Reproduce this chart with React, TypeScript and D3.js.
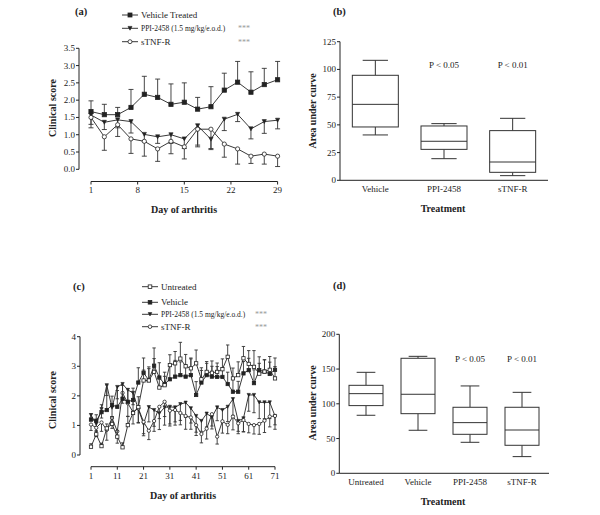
import React from 'react';
import * as d3 from 'd3';

const FONT = '"Liberation Serif", "Times New Roman", serif';
const INK = '#222';

// ---------- Panel (a) data ----------
const daysA = [1, 3, 5, 7, 9, 11, 13, 15, 17, 19, 21, 23, 25, 27, 29];
const xTicksA = [1, 8, 15, 22, 29];
const yTicksA = [0, 0.5, 1, 1.5, 2, 2.5, 3, 3.5];
const vehicleA = [1.67, 1.58, 1.58, 1.79, 2.17, 2.08, 1.88, 1.94, 1.74, 1.81, 2.29, 2.52, 2.23, 2.45, 2.59];
const vehicleSemA = [0.31, 0.3, 0.21, 0.52, 0.52, 0.53, 0.59, 0.56, 0.34, 0.58, 0.49, 0.6, 0.59, 0.47, 0.53];
const ppiA = [1.57, 1.36, 1.43, 1.38, 1.01, 0.94, 1.0, 0.88, 1.26, 0.87, 1.45, 1.59, 1.17, 1.38, 1.42];
const ppiSemA = [0.27, 0.21, 0.23, 0.33, 0.21, 0.19, 0.25, 0.28, 0.56, 0.27, 0.33, 0.21, 0.29, 0.34, 0.25];
const stnfA = [1.5, 0.94, 1.29, 0.88, 0.81, 0.59, 0.81, 0.65, 1.16, 1.16, 0.73, 0.59, 0.38, 0.44, 0.38];
const stnfSemA = [0.3, 0.39, 0.34, 0.42, 0.43, 0.36, 0.36, 0.35, 0.51, 0.59, 0.38, 0.44, 0.21, 0.29, 0.3];

// ---------- Panel (b) data ----------
const catsB = ['Vehicle', 'PPI-2458', 'sTNF-R'];
const yTicksB = [0, 25, 50, 75, 100, 125];
const minB = [40.9, 19.5, 4.2];
const q1B = [48.1, 27.9, 7.2];
const medB = [68.5, 35.2, 16.5];
const q3B = [94.7, 49.0, 44.8];
const maxB = [108.2, 51.1, 55.9];
const pTextB = ['', 'P < 0.05', 'P < 0.01'];

// ---------- Panel (c) data ----------
const daysC = [1, 3, 5, 7, 9, 11, 13, 15, 17, 19, 21, 23, 25, 27, 29, 31, 33, 35, 37, 39, 41, 43, 45, 47, 49, 51, 53, 55, 57, 59, 61, 63, 65, 67, 69, 71];
const xTicksC = [1, 11, 21, 31, 41, 51, 61, 71];
const yTicksC = [0, 1, 2, 3, 4];
const untreatedC = [0.28, 0.7, 0.3, 0.9, 1.05, 0.62, 0.26, 1.01, 1.42, 1.62, 2.52, 2.52, 2.81, 2.28, 2.36, 3.04, 3.1, 3.26, 3.0, 2.93, 3.1, 2.56, 2.81, 2.78, 2.81, 2.9, 3.32, 2.59, 2.7, 3.27, 3.08, 2.98, 2.75, 2.82, 2.88, 2.59];
const untreatedSemC = [0.1, 0.12, 0.1, 0.15, 0.25, 0.2, 0.15, 0.3, 0.4, 0.35, 0.35, 0.4, 0.45, 0.3, 0.3, 0.35, 0.4, 0.55, 0.4, 0.35, 0.45, 0.3, 0.35, 0.4, 0.3, 0.35, 0.4, 0.35, 0.45, 0.4, 0.45, 0.55, 0.35, 0.4, 0.45, 0.4];
const vehicleC = [1.2, 1.16, 1.45, 1.52, 1.69, 1.63, 1.9, 1.8, 1.86, 2.45, 2.78, 2.53, 3.02, 2.62, 2.4, 2.56, 2.65, 2.7, 2.65, 2.7, 2.03, 2.45, 2.7, 2.65, 2.64, 2.64, 2.4, 2.14, 2.14, 2.76, 2.87, 2.43, 2.87, 2.82, 2.74, 2.88];
const vehicleSemC = [0.2, 0.2, 0.25, 0.85, 0.3, 0.55, 0.45, 0.45, 0.4, 0.5, 0.5, 0.45, 0.6, 0.5, 0.4, 0.45, 0.55, 0.45, 0.4, 0.55, 0.45, 0.5, 0.4, 0.35, 0.35, 0.3, 0.4, 0.45, 0.35, 0.4, 0.4, 0.45, 0.45, 0.4, 0.4, 0.4];
const ppiC = [1.35, 1.05, 1.55, 2.36, 1.6, 2.3, 2.4, 2.2, 2.1, 1.55, 1.05, 1.62, 1.52, 1.41, 1.61, 1.63, 1.61, 1.72, 1.77, 1.58, 1.32, 1.15, 1.4, 1.28, 1.61, 1.52, 1.63, 1.89, 1.15, 1.24, 2.03, 2.03, 1.78, 1.78, 1.78, 1.32];
const ppiSemC = [0.2, 0.25, 0.3, 0.35, 0.3, 0.4, 0.45, 0.4, 0.4, 0.45, 0.4, 0.5, 0.55, 0.55, 0.6, 0.65, 0.6, 0.55, 0.5, 0.5, 0.55, 0.35, 0.45, 0.4, 0.45, 0.4, 0.5, 0.55, 0.35, 0.45, 0.55, 0.6, 0.55, 0.55, 0.55, 0.45];
const stnfC = [1.03, 0.92, 1.1, 0.85, 1.25, 0.8, 2.1, 1.75, 1.45, 1.58, 1.12, 0.82, 1.15, 1.63, 1.8, 1.5, 1.52, 1.42, 1.32, 1.27, 1.01, 0.71, 0.89, 1.38, 0.62, 1.14, 1.02, 1.3, 1.07, 1.18, 1.05, 1.01, 1.05, 1.16, 1.3, 1.32];
const stnfSemC = [0.2, 0.3, 0.3, 0.35, 0.35, 0.4, 0.35, 0.45, 0.4, 0.5, 0.4, 0.3, 0.35, 0.4, 0.5, 0.45, 0.4, 0.4, 0.45, 0.4, 0.35, 0.3, 0.35, 0.4, 0.25, 0.4, 0.3, 0.45, 0.35, 0.4, 0.3, 0.3, 0.35, 0.4, 0.35, 0.3];

// ---------- Panel (d) data ----------
const catsD = ['Untreated', 'Vehicle', 'PPI-2458', 'sTNF-R'];
const yTicksD = [0, 50, 100, 150, 200];
const minD = [83.5, 61.9, 44.6, 24.0];
const q1D = [97.4, 85.8, 56.1, 40.3];
const medD = [114.6, 113.7, 72.9, 62.3];
const q3D = [126.6, 165.5, 95.0, 95.0];
const maxD = [145.3, 168.3, 125.7, 116.5];
const pTextD = ['', '', 'P < 0.05', 'P < 0.01'];

type Shape = 'square' | 'tri' | 'circle' | 'osquare';

function Marker({ x, y, shape, s }: { x: number; y: number; shape: Shape; s: number }) {
  if (shape === 'square' || shape === 'osquare') {
    return (
      <rect x={x - s / 2} y={y - s / 2} width={s} height={s}
        fill={shape === 'square' ? INK : '#fff'} stroke={INK} strokeWidth={0.8} />
    );
  }
  if (shape === 'tri') {
    const h = s * 0.95;
    const p = `M${x - s / 2},${y - h / 2}L${x + s / 2},${y - h / 2}L${x},${y + h / 2}Z`;
    return <path d={p} fill={INK} stroke={INK} strokeWidth={0.6} />;
  }
  return <circle cx={x} cy={y} r={s / 2} fill="#fff" stroke={INK} strokeWidth={0.8} />;
}

type Series = { vals: number[]; sem: number[]; dir: 1 | -1; shape: Shape };

function Lines({ days, series, x, y, ms, cap }: {
  days: number[]; series: Series[]; x: d3.ScaleLinear<number, number>; y: d3.ScaleLinear<number, number>; ms: number; cap: number;
}) {
  const line = d3.line<number>().x((_, i) => x(days[i])).y((v) => y(v));
  return (
    <g>
      {series.map((s, si) => (
        <g key={si}>
          {s.vals.map((v, i) => {
            const px = x(days[i]);
            const y0 = y(v);
            const y1 = y(v + s.dir * s.sem[i]);
            return (
              <g key={i} stroke="#333" strokeWidth={0.9}>
                <line x1={px} x2={px} y1={y0} y2={y1} />
                <line x1={px - cap} x2={px + cap} y1={y1} y2={y1} />
              </g>
            );
          })}
          <path d={line(s.vals) || ''} fill="none" stroke={INK} strokeWidth={0.9} />
          {s.vals.map((v, i) => (
            <Marker key={i} x={x(days[i])} y={y(v)} shape={s.shape} s={ms} />
          ))}
        </g>
      ))}
    </g>
  );
}

function YAxis({ ax, y, ticks, fmt }: { ax: number; y: d3.ScaleLinear<number, number>; ticks: number[]; fmt: (v: number) => string }) {
  const [d0, d1] = y.domain();
  return (
    <g>
      <line x1={ax} x2={ax} y1={y(d0)} y2={y(d1)} stroke={INK} strokeWidth={1} />
      {ticks.map((t) => (
        <g key={t}>
          <line x1={ax - 3} x2={ax} y1={y(t)} y2={y(t)} stroke={INK} strokeWidth={1} />
          <text x={ax - 4} y={y(t) + 3} fontSize={9} textAnchor="end" fill={INK}>{fmt(t)}</text>
        </g>
      ))}
    </g>
  );
}

function XAxisLin({ ay, x, ticks, labelY }: { ay: number; x: d3.ScaleLinear<number, number>; ticks: number[]; labelY: number }) {
  const [d0, d1] = x.domain();
  return (
    <g>
      <line x1={x(d0)} x2={x(d1)} y1={ay} y2={ay} stroke={INK} strokeWidth={1} />
      {ticks.map((t) => (
        <g key={t}>
          <line x1={x(t)} x2={x(t)} y1={ay} y2={ay + 3} stroke={INK} strokeWidth={1} />
          <text x={x(t)} y={labelY} fontSize={9} textAnchor="middle" fill={INK}>{t}</text>
        </g>
      ))}
    </g>
  );
}

function Boxes({ cats, x, y, mins, q1, med, q3, maxs, bw, ptext, pY }: {
  cats: string[]; x: d3.ScaleBand<string>; y: d3.ScaleLinear<number, number>;
  mins: number[]; q1: number[]; med: number[]; q3: number[]; maxs: number[]; bw: number; ptext: string[]; pY: number;
}) {
  const capW = bw * 0.55;
  return (
    <g stroke="#333" strokeWidth={1} fill="none">
      {cats.map((c, i) => {
        const cx = (x(c) || 0) + x.bandwidth() / 2;
        return (
          <g key={c}>
            <line x1={cx} x2={cx} y1={y(maxs[i])} y2={y(q3[i])} />
            <line x1={cx} x2={cx} y1={y(q1[i])} y2={y(mins[i])} />
            <line x1={cx - capW / 2} x2={cx + capW / 2} y1={y(maxs[i])} y2={y(maxs[i])} />
            <line x1={cx - capW / 2} x2={cx + capW / 2} y1={y(mins[i])} y2={y(mins[i])} />
            <rect x={cx - bw / 2} y={y(q3[i])} width={bw} height={y(q1[i]) - y(q3[i])} fill="#fff" />
            <line x1={cx - bw / 2} x2={cx + bw / 2} y1={y(med[i])} y2={y(med[i])} />
            {ptext[i] && (
              <text x={cx} y={pY} fontSize={9} textAnchor="middle" fill={INK} stroke="none">{ptext[i]}</text>
            )}
          </g>
        );
      })}
    </g>
  );
}

function LegendItem({ x, y, shape, label, ms, fs = 9 }: { x: number; y: number; shape: Shape; label: string; ms: number; fs?: number }) {
  return (
    <g>
      <line x1={x} x2={x + 16} y1={y} y2={y} stroke={INK} strokeWidth={0.9} />
      <Marker x={x + 8} y={y} shape={shape} s={ms} />
      <text x={x + 19} y={y + 3} fontSize={fs} fill={INK}>{label}</text>
    </g>
  );
}

export default function App() {
  // Panel (a)
  const xA = d3.scaleLinear().domain([1, 29]).range([91, 277.6]);
  const yA = d3.scaleLinear().domain([0, 3.5]).range([169.3, 48.3]);
  // Panel (b)
  const xB = d3.scaleBand<string>().domain(catsB).range([341, 547]);
  const yB = d3.scaleLinear().domain([0, 125]).range([180.3, 41.7]);
  // Panel (c)
  const xC = d3.scaleLinear().domain([1, 71]).range([91, 275]);
  const yC = d3.scaleLinear().domain([0, 4]).range([455, 336.7]);
  // Panel (d)
  const xD = d3.scaleBand<string>().domain(catsD).range([340, 548]);
  const yD = d3.scaleLinear().domain([0, 200]).range([473.3, 334.3]);

  const seriesA: Series[] = [
    { vals: vehicleA, sem: vehicleSemA, dir: 1, shape: 'square' },
    { vals: ppiA, sem: ppiSemA, dir: -1, shape: 'tri' },
    { vals: stnfA, sem: stnfSemA, dir: -1, shape: 'circle' },
  ];
  const seriesC: Series[] = [
    { vals: ppiC, sem: ppiSemC, dir: -1, shape: 'tri' },
    { vals: stnfC, sem: stnfSemC, dir: -1, shape: 'circle' },
    { vals: vehicleC, sem: vehicleSemC, dir: 1, shape: 'square' },
    { vals: untreatedC, sem: untreatedSemC, dir: 1, shape: 'osquare' },
  ];

  const f1 = (v: number) => v.toFixed(1);
  const f0 = (v: number) => String(v);

  return (
    <svg width={600} height={515} style={{ position: 'absolute', left: 0, top: 0, background: '#fff' }} fontFamily={FONT}>
      <rect width={600} height={515} fill="#fff" />
      {/* ---------- (a) ---------- */}
      <text x={75} y={15} fontSize={10.5} fontWeight="bold" fill={INK}>(a)</text>
      <LegendItem x={122} y={15} shape="square" label="Vehicle Treated" ms={4} />
      <LegendItem x={122} y={28.3} shape="tri" label="PPI-2458 (1.5 mg/kg/e.o.d.)" ms={4} fs={7.5} />
      <LegendItem x={122} y={41.7} shape="circle" label="sTNF-R" ms={4} />
      <text x={238} y={31.3} fontSize={8} fill="#999">***</text>
      <text x={238} y={44.7} fontSize={8} fill="#999">***</text>
      <YAxis ax={79} y={yA} ticks={yTicksA} fmt={f1} />
      <XAxisLin ay={181.5} x={xA} ticks={xTicksA} labelY={192.5} />
      <Lines days={daysA} series={seriesA} x={xA} y={yA} ms={4.2} cap={2.5} />
      <text transform="translate(56,108) rotate(-90)" fontSize={10} fontWeight="bold" textAnchor="middle" fill={INK}>Clinical score</text>
      <text x={184} y={212.5} fontSize={10} fontWeight="bold" textAnchor="middle" fill={INK}>Day of arthritis</text>

      {/* ---------- (b) ---------- */}
      <text x={333} y={15} fontSize={10.5} fontWeight="bold" fill={INK}>(b)</text>
      <YAxis ax={340} y={yB} ticks={yTicksB} fmt={f0} />
      <line x1={340} x2={548} y1={yB(0)} y2={yB(0)} stroke={INK} strokeWidth={1} />
      <Boxes cats={catsB} x={xB} y={yB} mins={minB} q1={q1B} med={medB} q3={q3B} maxs={maxB} bw={46} ptext={pTextB} pY={68} />
      {catsB.map((c) => (
        <text key={c} x={(xB(c) || 0) + xB.bandwidth() / 2} y={191.5} fontSize={9} textAnchor="middle" fill={INK}>{c}</text>
      ))}
      <text transform="translate(316,111) rotate(-90)" fontSize={10} fontWeight="bold" textAnchor="middle" fill={INK}>Area under curve</text>
      <text x={443} y={211.5} fontSize={10} fontWeight="bold" textAnchor="middle" fill={INK}>Treatment</text>

      {/* ---------- (c) ---------- */}
      <text x={73} y={289.5} fontSize={10.5} fontWeight="bold" fill={INK}>(c)</text>
      <LegendItem x={142} y={286.7} shape="osquare" label="Untreated" ms={3.6} />
      <LegendItem x={142} y={302.3} shape="square" label="Vehicle" ms={3.6} />
      <LegendItem x={142} y={314.3} shape="tri" label="PPI-2458 (1.5 mg/kg/e.o.d.)" ms={3.6} fs={7.5} />
      <LegendItem x={142} y={326.7} shape="circle" label="sTNF-R" ms={3.6} />
      <text x={255} y={317.3} fontSize={8} fill="#999">***</text>
      <text x={255} y={329.7} fontSize={8} fill="#999">***</text>
      <YAxis ax={80} y={yC} ticks={yTicksC} fmt={f0} />
      <XAxisLin ay={466.7} x={xC} ticks={xTicksC} labelY={478.5} />
      <Lines days={daysC} series={seriesC} x={xC} y={yC} ms={3.3} cap={1.7} />
      <text transform="translate(56,400) rotate(-90)" fontSize={10} fontWeight="bold" textAnchor="middle" fill={INK}>Clinical score</text>
      <text x={183} y={498.5} fontSize={10} fontWeight="bold" textAnchor="middle" fill={INK}>Day of arthritis</text>

      {/* ---------- (d) ---------- */}
      <text x={333} y={289} fontSize={10.5} fontWeight="bold" fill={INK}>(d)</text>
      <YAxis ax={339.3} y={yD} ticks={yTicksD} fmt={f0} />
      <line x1={339.3} x2={549} y1={yD(0)} y2={yD(0)} stroke={INK} strokeWidth={1} />
      <Boxes cats={catsD} x={xD} y={yD} mins={minD} q1={q1D} med={medD} q3={q3D} maxs={maxD} bw={34} ptext={pTextD} pY={361.5} />
      {catsD.map((c) => (
        <text key={c} x={(xD(c) || 0) + xD.bandwidth() / 2} y={485} fontSize={9} textAnchor="middle" fill={INK}>{c}</text>
      ))}
      <text transform="translate(316,403) rotate(-90)" fontSize={10} fontWeight="bold" textAnchor="middle" fill={INK}>Area under curve</text>
      <text x={443} y={505} fontSize={10} fontWeight="bold" textAnchor="middle" fill={INK}>Treatment</text>
    </svg>
  );
}
